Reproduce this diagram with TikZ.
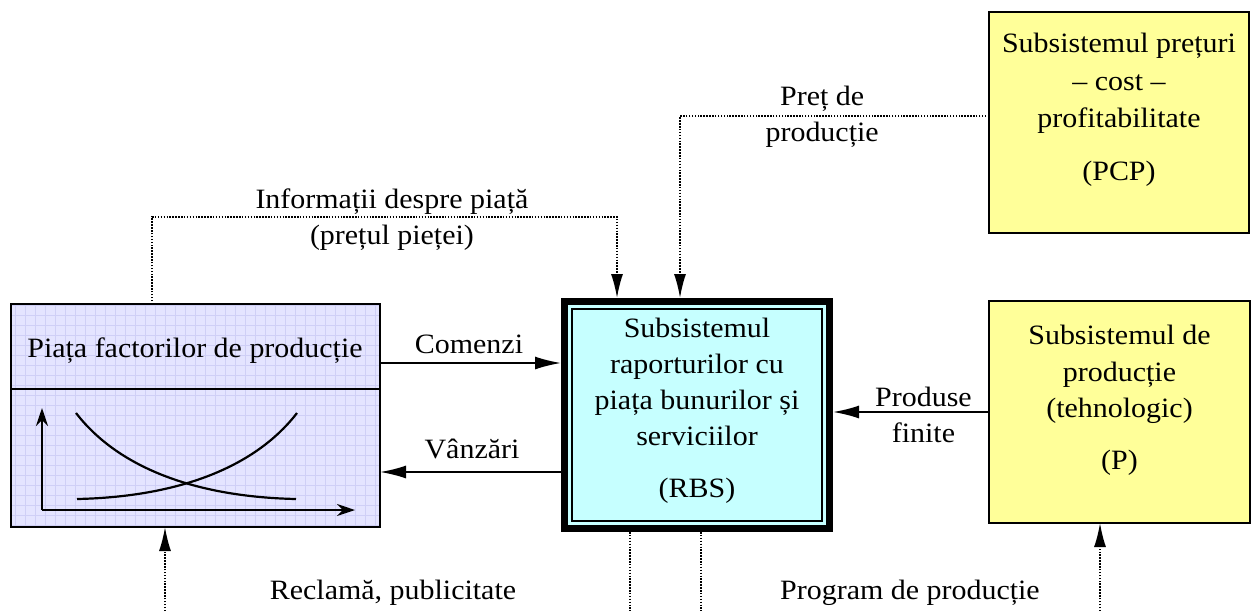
\documentclass[tikz,border=0pt]{standalone}
\usepackage{fontspec}
\setmainfont{Liberation Serif}[FakeStretch=1.07]
\usetikzlibrary{arrows.meta,calc}

\definecolor{lavfill}{HTML}{E4E4FF}
\definecolor{lavgrid}{HTML}{CFCFF6}
\definecolor{cyanfill}{HTML}{C6FFFF}
\definecolor{yelfill}{HTML}{FFFF99}

\begin{document}
\begin{tikzpicture}[x=1pt,y=-1pt,
  txt/.style={font=\fontsize{28}{36}\selectfont},
  lbl/.style={txt, align=center, inner sep=0pt},
  sysbox/.style={draw, line width=1.8pt, fill=yelfill, inner sep=0pt, outer sep=0pt},
  flow/.style={line width=1.8pt, -{Latex[length=26pt,width=13pt]}},
  info/.style={line width=1.6pt, dash pattern=on 1.5pt off 1.4pt, -{Latex[length=24pt,width=12pt]}},
  infoline/.style={line width=1.6pt, dash pattern=on 1.5pt off 1.4pt},
  axis/.style={line width=2pt, -{Stealth[length=18pt,width=12pt,inset=6pt]}},
  curve/.style={line width=2.2pt},
]
\useasboundingbox (0,0) rectangle (1256,611);

% market of production factors, with a fine grid
\node[draw, line width=2.4pt, fill=lavfill, minimum width=369pt, minimum height=223pt,
      inner sep=0pt, outer sep=0pt,
      path picture={\draw[lavgrid, line width=0.5pt, step=10pt]
        (path picture bounding box.south west) grid (path picture bounding box.north east);}]
      (market) at (195.5,415.5) {};
\node[lbl, anchor=base] (mtitle) at (195,357) {Piața factorilor de producție};
\draw[line width=2.4pt] (market.west |- 0,389) -- (market.east |- 0,389);

% supply / demand sketch
\draw[axis] (42,510) -- (42,408);
\draw[axis] (42,510) -- (355,510);
\draw[curve] (76,413) .. controls (120,470) and (200,497) .. (296,499);
\draw[curve] (77,499) .. controls (173,497) and (253,470) .. (297,413);

% central subsystem with a double frame
\node[draw, line width=7pt, fill=cyanfill, minimum width=265pt, minimum height=227pt,
      inner sep=0pt, outer sep=3.5pt] (rbs) at (697,415) {};
\draw[line width=1.8pt] ($(rbs.north west)+(11,11)$) rectangle ($(rbs.south east)-(11,11)$);
\node[lbl] (rbstext) at (697,411) {Subsistemul\\raporturilor cu\\piața bunurilor și\\serviciilor\\[16pt](RBS)};

% price-cost-profitability subsystem
\node[sysbox, minimum width=260pt, minimum height=221pt] (pcp) at (1119,122.5) {};
\node[lbl, font=\fontsize{28}{37.5}\selectfont] (pcptext) at (1119,110)
      {Subsistemul prețuri\\– cost –\\profitabilitate\\[15pt](PCP)};

% production subsystem
\node[sysbox, minimum width=261pt, minimum height=222pt] (p) at (1119.5,412) {};
\node[lbl, font=\fontsize{28}{36.5}\selectfont] (ptext) at (1119.5,400.5)
      {Subsistemul de\\producție\\(tehnologic)\\[15.5pt](P)};

% material flows
\draw[flow] (market.east |- 0,363) -- (rbs.west |- 0,363);
\node[lbl, anchor=base] (lcom) at (469,353) {Comenzi};
\draw[flow] (rbs.west |- 0,472) -- (market.east |- 0,472);
\node[lbl, anchor=base] (lvan) at (472,458) {Vânzări};
\draw[flow] (p.west |- 0,412) -- (rbs.east |- 0,412)
      node[lbl, pos=0.42, yshift=-3pt] {Produse\\finite};

% information flows
\draw[info] (market.north -| 152,0) |- (617,217)
      node[lbl, pos=0.758, yshift=-3pt] {Informații despre piață\\(prețul pieței)}
      -- (rbs.north -| 617,0);
\draw[info] (pcp.west |- 0,116) -| (rbs.north -| 680,0)
      node[lbl, pos=0.27, yshift=-1pt] {Preț de\\producție};

\coordinate (b1) at (165,611);
\coordinate (b2) at (630,611);
\coordinate (b3) at (701,611);
\coordinate (b4) at (1100,611);
\draw[info] (b1) -- (market.south -| b1);
\draw[infoline] (rbs.south -| b2) -- (b2);
\draw[infoline] (rbs.south -| b3) -- (b3);
\draw[info] (b4) -- (p.south -| b4);
\node[lbl, anchor=base] (lrec) at (393,599) {Reclamă, publicitate};
\node[lbl, anchor=base] (lprog) at (910,599) {Program de producție};
\end{tikzpicture}
\end{document}
